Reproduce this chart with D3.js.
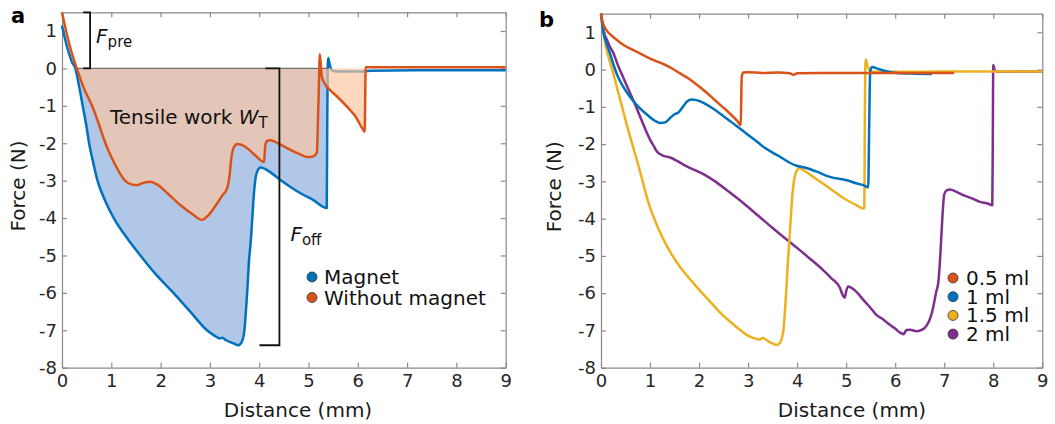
<!DOCTYPE html>
<html>
<head>
<meta charset="utf-8">
<script src="https://cdn.jsdelivr.net/npm/d3@7"></script>
<style>
  body { margin: 0; background: #fff; }
  text { font-family: "DejaVu Sans", Verdana, sans-serif; }
</style>
</head>
<body>
<svg id="chart" width="1055" height="424"></svg>
<script>
// ticks
const xTicks = [0, 1, 2, 3, 4, 5, 6, 7, 8, 9];
const yTicks = [-8, -7, -6, -5, -4, -3, -2, -1, 0, 1];

// panel a : [distance mm, force N]
const magnet = [[0,1.15],[0.06,0.8],[0.12,0.5],[0.2,0.18],[0.27,0],[0.35,-0.5],[0.42,-1.0],[0.49,-1.5],[0.55,-2.0],
  [0.63,-2.5],[0.72,-3.0],[0.88,-3.55],[1.05,-4.0],[1.3,-4.5],[1.59,-5.0],[1.9,-5.5],[2.26,-6.0],[2.6,-6.5],
  [2.94,-7.0],[3.1,-7.15],[3.2,-7.22],[3.25,-7.2],[3.32,-7.26],[3.48,-7.35],[3.58,-7.4],[3.65,-7.3],[3.7,-7.0],
  [3.73,-6.5],[3.76,-5.9],[3.79,-5.2],[3.83,-4.6],[3.86,-4.0],[3.89,-3.4],[3.93,-2.9],[3.98,-2.7],[4.03,-2.65],
  [4.15,-2.71],[4.43,-2.98],[4.83,-3.33],[5.1,-3.52],[5.37,-3.73],[5.38,-1.5],[5.39,0.05],[5.4,0.28],[5.43,0.1],
  [5.47,-0.04],[5.55,-0.08],[6.15,-0.08],[6.25,-0.06],[7.5,-0.05],[9,-0.05]];
const noMagnet = [[0,1.5],[0.1,0.9],[0.2,0.4],[0.3,0],[0.45,-0.55],[0.61,-1.0],[0.75,-1.5],[0.88,-2.0],[1.05,-2.5],
  [1.28,-3.0],[1.4,-3.1],[1.52,-3.12],[1.65,-3.06],[1.79,-3.03],[1.95,-3.12],[2.15,-3.35],[2.4,-3.65],[2.65,-3.9],
  [2.84,-4.05],[2.95,-3.95],[3.1,-3.7],[3.25,-3.4],[3.35,-3.2],[3.4,-2.85],[3.43,-2.45],[3.48,-2.12],[3.56,-2.02],
  [3.7,-2.08],[3.9,-2.3],[4.1,-2.5],[4.12,-2.1],[4.15,-1.95],[4.22,-1.92],[4.45,-2.05],[4.75,-2.25],[5.0,-2.37],
  [5.1,-2.35],[5.17,-2.25],[5.19,-1.5],[5.21,-0.5],[5.23,0.38],[5.27,-0.22],[5.35,-0.45],[5.44,-0.58],[5.6,-0.78],
  [5.78,-1.02],[5.95,-1.28],[6.11,-1.64],[6.14,-1.69],[6.15,-0.8],[6.16,0.03],[6.3,0.03],[9,0.03]];
const legendA = ["Magnet", "Without magnet"];

// panel b
const ml05 = [[0,1.5],[0.04,1.25],[0.1,1.08],[0.2,0.93],[0.3,0.82],[0.46,0.66],[0.6,0.56],[0.8,0.43],[0.95,0.33],
  [1.1,0.24],[1.27,0.15],[1.45,0.03],[1.61,-0.1],[1.8,-0.25],[1.95,-0.4],[2.12,-0.58],[2.29,-0.78],[2.46,-0.98],
  [2.63,-1.18],[2.78,-1.38],[2.85,-1.49],[2.86,-0.8],[2.87,-0.2],[2.9,-0.08],[3.0,-0.07],[3.3,-0.09],[3.6,-0.08],
  [3.85,-0.1],[3.92,-0.14],[4.0,-0.1],[4.5,-0.09],[5.5,-0.09],[6.5,-0.09],[7.2,-0.09]];
const ml1 = [[0,1.5],[0.05,1.0],[0.1,0.75],[0.18,0.45],[0.25,0.15],[0.32,-0.11],[0.45,-0.45],[0.59,-0.73],
  [0.75,-0.98],[0.93,-1.2],[1.07,-1.35],[1.2,-1.43],[1.3,-1.42],[1.41,-1.3],[1.5,-1.2],[1.58,-1.15],[1.68,-0.98],
  [1.76,-0.85],[1.85,-0.8],[1.95,-0.82],[2.1,-0.9],[2.29,-1.05],[2.5,-1.25],[2.75,-1.5],[2.97,-1.72],[3.15,-1.9],
  [3.31,-2.07],[3.5,-2.23],[3.65,-2.34],[3.85,-2.5],[3.99,-2.58],[4.19,-2.64],[4.4,-2.74],[4.67,-2.88],[5.01,-2.97],
  [5.2,-3.05],[5.35,-3.1],[5.45,-3.16],[5.47,-1.5],[5.49,-0.05],[5.53,0.07],[5.65,0.02],[5.8,-0.04],[6.03,-0.09],
  [6.4,-0.11],[6.75,-0.12]];
const ml15 = [[0,1.5],[0.04,1.1],[0.08,0.75],[0.15,0.35],[0.25,-0.1],[0.35,-0.6],[0.44,-1.05],[0.55,-1.6],
  [0.66,-2.1],[0.8,-2.75],[0.93,-3.4],[1.0,-3.7],[1.1,-4.05],[1.27,-4.55],[1.45,-4.98],[1.61,-5.29],[1.8,-5.6],
  [1.95,-5.83],[2.15,-6.12],[2.29,-6.32],[2.45,-6.55],[2.63,-6.76],[2.8,-6.95],[2.97,-7.12],[3.1,-7.2],[3.24,-7.24],
  [3.3,-7.2],[3.4,-7.28],[3.5,-7.35],[3.58,-7.39],[3.65,-7.33],[3.72,-7.0],[3.75,-6.5],[3.78,-5.9],[3.81,-5.2],
  [3.84,-4.6],[3.87,-4.0],[3.9,-3.4],[3.94,-2.95],[3.99,-2.72],[4.05,-2.65],[4.15,-2.72],[4.33,-2.88],[4.67,-3.19],
  [5.01,-3.5],[5.2,-3.63],[5.35,-3.73],[5.37,-3.7],[5.38,-1.5],[5.39,0.1],[5.4,0.27],[5.43,0.12],[5.47,0.0],
  [5.55,-0.06],[6.0,-0.06],[7.0,-0.05],[8.0,-0.05],[9,-0.05]];
const ml2 = [[0,1.5],[0.05,1.05],[0.12,0.8],[0.18,0.62],[0.25,0.45],[0.35,0.1],[0.45,-0.2],[0.59,-0.62],[0.7,-0.95],
  [0.8,-1.27],[0.93,-1.68],[1.0,-1.88],[1.08,-2.06],[1.14,-2.2],[1.25,-2.3],[1.41,-2.36],[1.55,-2.45],[1.75,-2.6],
  [1.95,-2.72],[2.15,-2.85],[2.35,-3.02],[2.63,-3.3],[2.9,-3.58],[3.1,-3.8],[3.31,-4.04],[3.5,-4.25],[3.72,-4.49],
  [3.92,-4.7],[4.13,-4.93],[4.35,-5.17],[4.53,-5.38],[4.7,-5.6],[4.87,-5.85],[4.93,-6.05],[4.97,-6.12],[5.0,-5.95],
  [5.04,-5.82],[5.1,-5.85],[5.2,-5.95],[5.35,-6.18],[5.5,-6.4],[5.62,-6.59],[5.75,-6.7],[5.89,-6.85],[6.0,-6.95],
  [6.1,-7.06],[6.17,-7.1],[6.23,-6.99],[6.3,-6.98],[6.44,-7.02],[6.55,-6.98],[6.65,-6.85],[6.72,-6.65],[6.78,-6.35],
  [6.83,-6.0],[6.88,-5.7],[6.91,-5.2],[6.94,-4.5],[6.97,-3.8],[7.0,-3.35],[7.05,-3.24],[7.12,-3.22],[7.25,-3.28],
  [7.39,-3.37],[7.55,-3.45],[7.73,-3.55],[7.9,-3.6],[7.98,-3.64],[7.99,-2.0],[8.0,0.12],[8.03,-0.02],[8.1,-0.06],
  [8.5,-0.05],[9,-0.05]];
const legendB = ["0.5 ml", "1 ml", "1.5 ml", "2 ml"];

// annotation values
const fPre = {x: 0.57, top: 1.5, bottom: 0};
const fOff = {x: 4.41, top: 0, bottom: -7.4};

const blue = "#0072BD", orange = "#D95319", yellow = "#EDB120", purple = "#7E2F8E";

const svg = d3.select("#chart");

const xA = d3.scaleLinear().domain([0, 9]).range([62, 505.7]);
const yA = d3.scaleLinear().domain([-8, 1.5]).range([367.7, 12.3]);
const xB = d3.scaleLinear().domain([0, 9]).range([601, 1042.3]);
const yB = d3.scaleLinear().domain([-8, 1.5]).range([367.7, 13.7]);

// plain hyphen like the original, not the unicode minus
const fmt = d => String(d);

function frame(x, y, xLabelX, yLabelX) {
  const g = svg.append("g");
  const b = y.range()[0], t = y.range()[1], l = x.range()[0], r = x.range()[1];
  g.append("g").attr("transform", "translate(0," + b + ")")
    .call(d3.axisBottom(x).tickValues(xTicks).tickFormat(fmt).tickSizeInner(-5).tickSizeOuter(0).tickPadding(7));
  g.append("g").attr("transform", "translate(0," + t + ")")
    .call(d3.axisTop(x).tickValues(xTicks).tickSizeInner(-5).tickSizeOuter(0).tickFormat(""));
  g.append("g").attr("transform", "translate(" + l + ",0)")
    .call(d3.axisLeft(y).tickValues(yTicks).tickFormat(fmt).tickSizeInner(-5).tickSizeOuter(0).tickPadding(5));
  g.append("g").attr("transform", "translate(" + r + ",0)")
    .call(d3.axisRight(y).tickValues(yTicks).tickSizeInner(-5).tickSizeOuter(0).tickFormat(""));
  g.selectAll("path, line").attr("stroke", "#8a8a8a").attr("stroke-width", 1.2);
  g.selectAll("text").attr("fill", "#262626").attr("font-size", 18)
    .attr("font-family", "'DejaVu Sans', Verdana, sans-serif");

  svg.append("text").attr("x", xLabelX).attr("y", 417).attr("text-anchor", "middle")
    .attr("font-size", 20).attr("fill", "#1a1a1a").text("Distance (mm)");
  svg.append("text").attr("transform", "translate(" + yLabelX + "," + ((t + b) / 2 - 4) + ") rotate(-90)")
    .attr("text-anchor", "middle").attr("font-size", 20).attr("fill", "#1a1a1a").text("Force (N)");
  return g;
}

function lineGen(x, y) {
  return d3.line().x(d => x(d[0])).y(d => y(d[1])).curve(d3.curveMonotoneX);
}
function areaGen(x, y) {
  return d3.area().x(d => x(d[0])).y0(y(0)).y1(d => y(d[1])).curve(d3.curveMonotoneX);
}

// ---------- panel a ----------
frame(xA, yA, 298, 25);

const lineA = lineGen(xA, yA), areaA = areaGen(xA, yA);

svg.append("path").datum(magnet.filter(d => d[0] >= 0.27 && d[0] <= 5.39))
  .attr("d", areaA).attr("fill", "#b1c7e8");
svg.append("path").datum(magnet).attr("d", lineA)
  .attr("fill", "none").attr("stroke", blue).attr("stroke-width", 2.5).attr("stroke-linejoin", "round");
svg.append("path").datum(noMagnet.filter(d => d[0] >= 0.3 && d[0] <= 6.15))
  .attr("d", areaA).attr("fill", "rgb(252,198,161)").attr("fill-opacity", 0.68);
svg.append("line").attr("x1", xA(0.25)).attr("x2", xA(5.4)).attr("y1", yA(0)).attr("y2", yA(0))
  .attr("stroke", "#707070").attr("stroke-width", 1.2);
svg.append("path").datum(noMagnet).attr("d", lineA)
  .attr("fill", "none").attr("stroke", orange).attr("stroke-width", 2.5).attr("stroke-linejoin", "round");

// brackets
function bracket(x, y, v, tickL, tickLBottom) {
  const px = x(v.x);
  const p = d3.path();
  p.moveTo(px - tickL, y(v.top)); p.lineTo(px, y(v.top));
  p.lineTo(px, y(v.bottom)); p.lineTo(px - tickLBottom, y(v.bottom));
  svg.append("path").attr("d", p.toString()).attr("fill", "none")
    .attr("stroke", "#111").attr("stroke-width", 1.8);
}
bracket(xA, yA, fPre, 7, 7);
bracket(xA, yA, fOff, 14, 20);

function fLabel(px, py, sub) {
  const t = svg.append("text").attr("x", px).attr("y", py).attr("fill", "#111").attr("font-size", 20);
  t.append("tspan").attr("font-style", "italic").text("F");
  t.append("tspan").attr("font-size", 15).attr("dy", 4).text(sub);
}
fLabel(xA(fPre.x) + 6, yA(0.68), "pre");
fLabel(xA(fOff.x) + 11, yA(-4.6), "off");

const tw = svg.append("text").attr("x", 110).attr("y", 124).attr("fill", "#111").attr("font-size", 20);
tw.append("tspan").text("Tensile work ");
tw.append("tspan").attr("font-style", "italic").text("W");
tw.append("tspan").attr("font-size", 15).attr("dy", 4).text("T");

const legA = svg.append("g");
legendA.forEach((name, i) => {
  const yy = 277 + i * 20.5;
  legA.append("circle").attr("cx", 312).attr("cy", yy).attr("r", 5)
    .attr("fill", [blue, orange][i]).attr("stroke", "#333").attr("stroke-width", 0.8);
  legA.append("text").attr("x", 324).attr("y", yy + 7).attr("font-size", 20).attr("fill", "#111").text(name);
});

svg.append("text").attr("x", 11).attr("y", 23).attr("font-size", 21).attr("font-weight", "bold")
  .attr("font-family", "'Liberation Sans', Arial, sans-serif").text("a");

// ---------- panel b ----------
frame(xB, yB, 852, 561);
const lineB = lineGen(xB, yB);
const seriesB = [ml05, ml1, ml15, ml2];
const colorsB = [orange, blue, yellow, purple];
// draw order: 2 ml, 1.5 ml, 1 ml, 0.5 ml on top
[3, 2, 1, 0].forEach(i => {
  svg.append("path").datum(seriesB[i]).attr("d", lineB)
    .attr("fill", "none").attr("stroke", colorsB[i]).attr("stroke-width", 2.5).attr("stroke-linejoin", "round");
});

const legB = svg.append("g");
legendB.forEach((name, i) => {
  const yy = 278 + i * 18.7;
  legB.append("circle").attr("cx", 953).attr("cy", yy).attr("r", 5)
    .attr("fill", colorsB[i]).attr("stroke", "#333").attr("stroke-width", 0.8);
  legB.append("text").attr("x", 966).attr("y", yy + 7).attr("font-size", 20).attr("fill", "#111").text(name);
});

svg.append("text").attr("x", 539).attr("y", 27).attr("font-size", 21).attr("font-weight", "bold")
  .attr("font-family", "'Liberation Sans', Arial, sans-serif").text("b");
</script>
</body>
</html>
